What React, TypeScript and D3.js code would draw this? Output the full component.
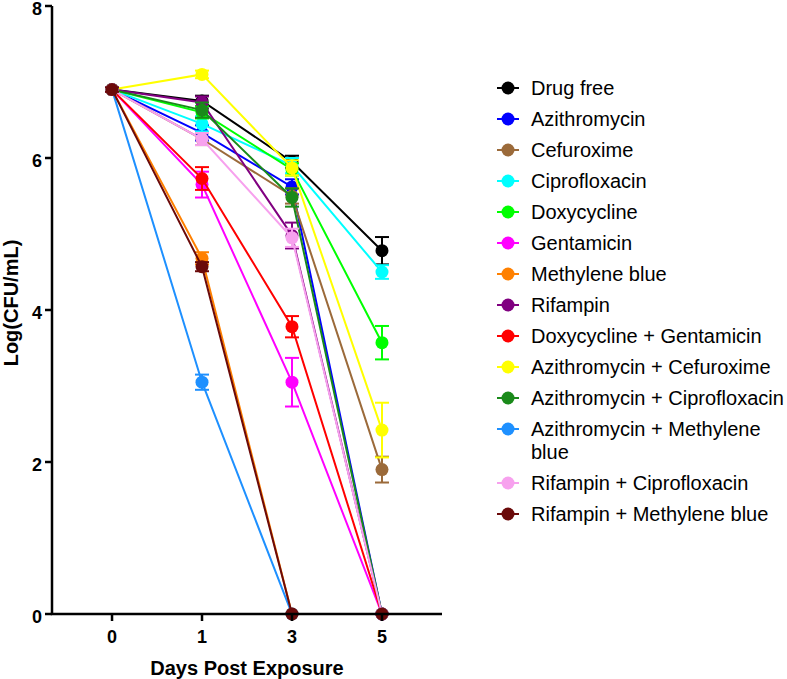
import React from "react";
import * as d3 from "d3";

const days = ["0", "1", "3", "5"];
const yTicks = [0, 2, 4, 6, 8];

const seriesNames = [
  "Drug free",
  "Azithromycin",
  "Cefuroxime",
  "Ciprofloxacin",
  "Doxycycline",
  "Gentamicin",
  "Methylene blue",
  "Rifampin",
  "Doxycycline + Gentamicin",
  "Azithromycin + Cefuroxime",
  "Azithromycin + Ciprofloxacin",
  "Azithromycin + Methylene blue",
  "Rifampin + Ciprofloxacin",
  "Rifampin + Methylene blue",
];

const seriesColors = [
  "#000000",
  "#0000ff",
  "#9b6a3a",
  "#00ffff",
  "#00ff00",
  "#ff00ff",
  "#ff8000",
  "#800080",
  "#ff0000",
  "#ffff00",
  "#1a8a1a",
  "#1e90ff",
  "#f7a1ee",
  "#6b0a0a",
];

const meanValues = [
  [6.9, 6.75, 5.95, 4.78],
  [6.9, 6.33, 5.62, 0],
  [6.9, 6.25, 5.5, 1.9],
  [6.9, 6.45, 5.9, 4.5],
  [6.9, 6.6, 5.85, 3.57],
  [6.9, 5.65, 3.05, 0],
  [6.9, 4.68, 0, 0],
  [6.9, 6.73, 4.98, 0],
  [6.9, 5.73, 3.78, 0],
  [6.9, 7.1, 5.87, 2.42],
  [6.9, 6.63, 5.48, 0],
  [6.9, 3.05, 0, 0],
  [6.9, 6.25, 4.95, 0],
  [6.9, 4.57, 0, 0],
];

const errValues = [
  [0.03, 0.07, 0.08, 0.18],
  [0.03, 0.1, 0.1, 0],
  [0.03, 0.08, 0.1, 0.17],
  [0.03, 0.1, 0.1, 0.09],
  [0.03, 0.08, 0.08, 0.22],
  [0.03, 0.17, 0.32, 0],
  [0.03, 0.08, 0, 0],
  [0.03, 0.08, 0.17, 0],
  [0.03, 0.15, 0.14, 0],
  [0.03, 0.05, 0.1, 0.36],
  [0.03, 0.1, 0.12, 0],
  [0.03, 0.1, 0, 0],
  [0.03, 0.08, 0.12, 0],
  [0.03, 0.06, 0, 0],
];

const W = 787;
const H = 679;
const axL = 52;
const axR = 442;
const yTop = 6;
const yBot = 614;

export default function App() {
  const x = d3.scalePoint<string>().domain(days).range([axL, axR]).padding(0.667);
  const y = d3.scaleLinear().domain([0, 8]).range([yBot, yTop]);
  const line = d3
    .line<number>()
    .x((_, i) => x(days[i]) as number)
    .y((d) => y(d));

  const font = "Liberation Sans, Arial, Helvetica, sans-serif";
  const capW = 7;
  const r = 6.5;

  // legend layout
  const legX = 508;
  const legRows: { name: string; color: string; y: number; lines: string[] }[] = [];
  let ly = 88;
  seriesNames.forEach((n, i) => {
    const lines = n === "Azithromycin + Methylene blue" ? ["Azithromycin + Methylene", "blue"] : [n];
    legRows.push({ name: n, color: seriesColors[i], y: ly, lines });
    ly += 31 + (lines.length - 1) * 23;
  });

  return (
    <svg
      width={W}
      height={H}
      style={{ position: "absolute", left: 0, top: 0, background: "#fff" }}
      fontFamily={font}
    >
      <rect x={0} y={0} width={W} height={H} fill="#fff" />
      {/* series */}
      {meanValues.map((vals, si) => {
        const c = seriesColors[si];
        return (
          <g key={si}>
            <path d={line(vals) || ""} fill="none" stroke={c} strokeWidth={2} />
            {vals.map((v, di) => {
              const e = errValues[si][di];
              if (!e) return null;
              const cx = x(days[di]) as number;
              const y1 = y(v + e);
              const y2 = y(Math.max(0, v - e));
              return (
                <g key={di} stroke={c} strokeWidth={2}>
                  <line x1={cx} x2={cx} y1={y1} y2={y2} />
                  <line x1={cx - capW} x2={cx + capW} y1={y1} y2={y1} />
                  <line x1={cx - capW} x2={cx + capW} y1={y2} y2={y2} />
                </g>
              );
            })}
            {vals.map((v, di) => (
              <circle key={"m" + di} cx={x(days[di]) as number} cy={y(v)} r={r} fill={c} />
            ))}
          </g>
        );
      })}

      {/* axes */}
      <line x1={axL} x2={axL} y1={yTop} y2={yBot} stroke="#000" strokeWidth={2.5} />
      <line x1={axL - 1.25} x2={axR} y1={yBot} y2={yBot} stroke="#000" strokeWidth={2.5} />
      {yTicks.map((t) => (
        <g key={t}>
          <line x1={axL - 7} x2={axL} y1={y(t)} y2={y(t)} stroke="#000" strokeWidth={2.5} />
          <text
            x={axL - 10}
            y={y(t)}
            dy="0.5em"
            textAnchor="end"
            fontSize={18}
            fontWeight="bold"
          >
            {t}
          </text>
        </g>
      ))}
      {days.map((d) => (
        <g key={d}>
          <line
            x1={x(d) as number}
            x2={x(d) as number}
            y1={yBot}
            y2={yBot + 7}
            stroke="#000"
            strokeWidth={2.5}
          />
          <text
            x={x(d) as number}
            y={yBot + 29}
            textAnchor="middle"
            fontSize={18}
            fontWeight="bold"
          >
            {d}
          </text>
        </g>
      ))}
      <text
        x={(axL + axR) / 2}
        y={675}
        textAnchor="middle"
        fontSize={20}
        fontWeight="bold"
      >
        Days Post Exposure
      </text>
      <text
        transform={`translate(18,303) rotate(-90)`}
        textAnchor="middle"
        fontSize={20}
        fontWeight="bold"
      >
        Log(CFU/mL)
      </text>

      {/* legend */}
      {legRows.map((row) => (
        <g key={row.name}>
          <line x1={legX - 11} x2={legX + 11} y1={row.y} y2={row.y} stroke={row.color} strokeWidth={2} />
          <circle cx={legX} cy={row.y} r={6.5} fill={row.color} />
          {row.lines.map((t, k) => (
            <text key={k} x={531} y={row.y + k * 23} dy="0.36em" fontSize={20} fill="#000">
              {t}
            </text>
          ))}
        </g>
      ))}
    </svg>
  );
}
